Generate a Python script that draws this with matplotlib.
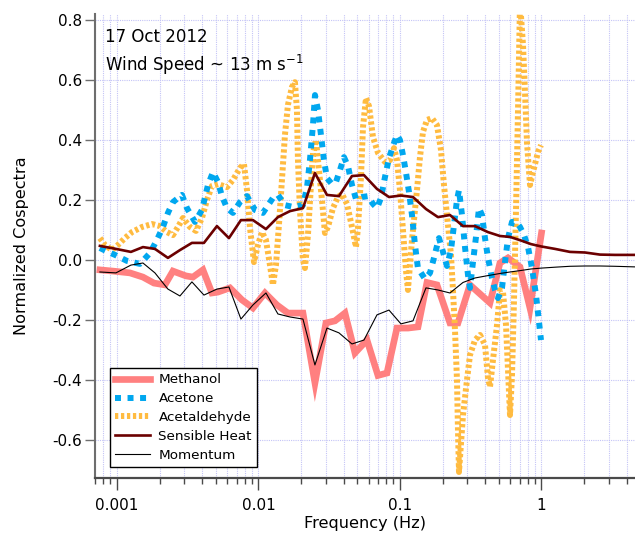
import matplotlib
matplotlib.use("Agg")
import matplotlib.pyplot as plt
from matplotlib.ticker import LogLocator, FixedLocator, NullFormatter, FuncFormatter

plt.rcParams['font.family'] = ['DejaVu Sans']
plt.rcParams['axes.unicode_minus'] = False

# Frequency bins (Hz) shared by the sensible heat and momentum cospectra
freq_flux = [0.000758, 0.000984, 0.001256, 0.001527, 0.001856, 0.002293, 0.002788,
             0.003388, 0.004120, 0.005090, 0.006187, 0.007520, 0.009144, 0.01130,
             0.01373, 0.01670, 0.02063, 0.02507, 0.03049, 0.03706, 0.04580, 0.05567,
             0.06879, 0.08363, 0.1016, 0.1236, 0.1527, 0.1856, 0.2256, 0.2788, 0.3388,
             0.4187, 0.5090, 0.5991, 0.7163, 0.8428, 1.0, 1.246, 1.590, 2.030, 2.591,
             3.307, 4.58]
sensible_heat = [0.047, 0.037, 0.027, 0.043, 0.037, 0.007, 0.033, 0.057, 0.057, 0.113,
                 0.073, 0.133, 0.133, 0.103, 0.143, 0.163, 0.173, 0.290, 0.217, 0.213,
                 0.280, 0.283, 0.237, 0.210, 0.215, 0.210, 0.170, 0.143, 0.150, 0.113,
                 0.113, 0.093, 0.080, 0.077, 0.065, 0.053, 0.045, 0.037, 0.027, 0.025,
                 0.018, 0.017, 0.017]
momentum = [-0.040, -0.043, -0.017, -0.010, -0.043, -0.097, -0.120, -0.073, -0.117, -0.097,
            -0.090, -0.197, -0.150, -0.110, -0.180, -0.190, -0.197, -0.350, -0.227, -0.243,
            -0.280, -0.267, -0.183, -0.167, -0.213, -0.203, -0.093, -0.100, -0.110, -0.075,
            -0.060, -0.052, -0.045, -0.040, -0.035, -0.030, -0.027, -0.024, -0.021, -0.020,
            -0.020, -0.021, -0.023]

# Methanol cospectrum
freq_methanol = [0.000759, 0.000937, 0.001236, 0.001527, 0.001826, 0.002184, 0.002488,
                 0.003073, 0.003444, 0.004053, 0.004691, 0.005173, 0.006289, 0.007646,
                 0.009146, 0.01112, 0.01351, 0.01616, 0.02063, 0.02508, 0.02999, 0.03473,
                 0.04087, 0.04809, 0.05846, 0.06992, 0.08095, 0.09524, 0.1139, 0.1341,
                 0.1552, 0.1826, 0.2256, 0.2569, 0.3124, 0.4325, 0.5088, 0.5798, 0.7047,
                 0.8295, 1.0]
methanol = [-0.033, -0.037, -0.043, -0.057, -0.077, -0.083, -0.037, -0.053, -0.057, -0.033,
            -0.110, -0.107, -0.093, -0.133, -0.160, -0.110, -0.150, -0.177, -0.177, -0.410,
            -0.210, -0.203, -0.177, -0.310, -0.267, -0.385, -0.377, -0.227, -0.227, -0.223,
            -0.075, -0.083, -0.210, -0.210, -0.083, -0.143, -0.010, 0.007, -0.023, -0.160,
            0.090]

# Acetone cospectrum
freq_acetone = [0.000758, 0.000864, 0.000969, 0.001177, 0.001454, 0.001711, 0.001918,
                0.002114, 0.002294, 0.002488, 0.002881, 0.003125, 0.00356, 0.003989,
                0.004399, 0.004772, 0.005176, 0.005525, 0.005993, 0.006608, 0.007405,
                0.008299, 0.009453, 0.01076, 0.01266, 0.01374, 0.01539, 0.01753, 0.02063,
                0.02202, 0.02312, 0.02428, 0.02509, 0.02634, 0.02766, 0.02904, 0.0305,
                0.03308, 0.03531, 0.03768, 0.04022, 0.04293, 0.04581, 0.04889, 0.05391,
                0.05944, 0.06448, 0.06883, 0.07345, 0.0784, 0.08367, 0.09077, 0.09531,
                0.1, 0.105, 0.1102, 0.1158, 0.1216, 0.1277, 0.134, 0.1502, 0.163, 0.1739,
                0.1887, 0.2014, 0.2149, 0.2294, 0.2409, 0.2529, 0.2613, 0.2744, 0.2881,
                0.3025, 0.3125, 0.3281, 0.3446, 0.3618, 0.3799, 0.3989, 0.4189, 0.4471,
                0.4695, 0.4929, 0.5261, 0.5525, 0.5801, 0.6191, 0.6608, 0.7053, 0.7527,
                0.8033, 0.8574, 0.9151, 0.9609, 0.992]
acetone = [0.040, 0.027, 0.017, -0.003, -0.013, 0.023, 0.067, 0.110, 0.157, 0.193,
           0.217, 0.173, 0.127, 0.167, 0.250, 0.293, 0.260, 0.213, 0.173, 0.157,
           0.193, 0.213, 0.167, 0.157, 0.207, 0.217, 0.183, 0.177, 0.183, 0.240,
           0.333, 0.450, 0.550, 0.500, 0.417, 0.333, 0.273, 0.253, 0.260, 0.300,
           0.343, 0.313, 0.250, 0.203, 0.210, 0.213, 0.187, 0.173, 0.207, 0.277,
           0.340, 0.390, 0.417, 0.400, 0.350, 0.293, 0.227, 0.150, 0.050, -0.027,
           -0.063, -0.043, 0.007, 0.073, 0.027, -0.020, 0.033, 0.117, 0.200, 0.233,
           0.150, 0.043, -0.050, -0.093, -0.007, 0.077, 0.173, 0.150, 0.073, 0.007,
           -0.060, -0.100, -0.127, -0.093, -0.007, 0.073, 0.127, 0.127, 0.110, 0.083,
           0.043, -0.027, -0.117, -0.207, -0.267]

# Acetaldehyde cospectrum
freq_acetaldehyde = [0.000758, 0.000823, 0.000923, 0.001016, 0.001139, 0.001277, 0.001502,
                     0.001768, 0.002014, 0.002257, 0.002488, 0.002699, 0.002928, 0.003281,
                     0.003618, 0.003989, 0.004328, 0.004695, 0.005176, 0.005993, 0.006608,
                     0.007405, 0.007904, 0.008299, 0.008714, 0.009301, 0.00992, 0.01059,
                     0.0113, 0.01206, 0.01266, 0.0133, 0.01396, 0.01466, 0.01539, 0.01616,
                     0.01725, 0.01811, 0.01871, 0.01902, 0.01965, 0.02063, 0.02132, 0.02238,
                     0.0235, 0.02428, 0.0255, 0.02634, 0.02811, 0.02952, 0.0310, 0.03362,
                     0.03648, 0.03893, 0.04223, 0.04581, 0.04889, 0.05051, 0.05304, 0.0548,
                     0.05754, 0.06042, 0.06448, 0.06995, 0.0784, 0.08504, 0.09077, 0.09531,
                     0.1, 0.105, 0.1102, 0.1139, 0.1216, 0.1319, 0.1385, 0.1454, 0.1552,
                     0.1683, 0.1826, 0.1949, 0.2047, 0.2184, 0.2294, 0.2369, 0.2448, 0.2529,
                     0.257, 0.2613, 0.2789, 0.2976, 0.3125, 0.339, 0.3678, 0.3989, 0.4189,
                     0.4328, 0.4544, 0.485, 0.5093, 0.5347, 0.5615, 0.5801, 0.5993, 0.6191,
                     0.6396, 0.6608, 0.6827, 0.7053, 0.7405, 0.7651, 0.7904, 0.8299, 0.8714,
                     0.9453, 0.992]
acetaldehyde = [0.073, 0.050, 0.033, 0.050, 0.073, 0.093, 0.110, 0.120, 0.113, 0.093,
                0.083, 0.110, 0.140, 0.110, 0.097, 0.140, 0.200, 0.247, 0.253, 0.243,
                0.267, 0.307, 0.320, 0.233, 0.107, -0.007, 0.050, 0.093, 0.067, -0.017,
                -0.083, -0.017, 0.117, 0.267, 0.417, 0.517, 0.577, 0.593, 0.500, 0.333,
                0.167, 0.000, -0.027, 0.083, 0.250, 0.357, 0.400, 0.333, 0.200, 0.090,
                0.110, 0.173, 0.210, 0.220, 0.187, 0.110, 0.043, 0.107, 0.277, 0.443,
                0.540, 0.513, 0.410, 0.357, 0.327, 0.333, 0.373, 0.333, 0.233, 0.100,
                -0.033, -0.100, 0.067, 0.233, 0.343, 0.427, 0.467, 0.473, 0.450, 0.367,
                0.250, 0.117, 0.017, -0.100, -0.233, -0.400, -0.567, -0.707, -0.517, -0.400,
                -0.317, -0.267, -0.250, -0.283, -0.393, -0.423, -0.333, -0.217, -0.100, -0.107,
                -0.217, -0.367, -0.517, -0.383, -0.133, 0.167, 0.500, 0.860, 0.717, 0.557,
                0.390, 0.250, 0.293, 0.360, 0.383]

y_ticks = [-0.6, -0.4, -0.2, 0.0, 0.2, 0.4, 0.6, 0.8]
x_ticks = [0.001, 0.01, 0.1, 1]
x_tick_labels = ['0.001', '0.01', '0.1', '1']

fig = plt.figure(figsize=(6.35, 5.34), dpi=100)
ax = fig.add_axes([95 / 635, 1 - 478 / 534, 540 / 635, (478 - 13.5) / 534])

grid_color = '#c4c4f6'
ax.set_xscale('log')
ax.set_xlim(7.0e-4, 4.58)
ax.set_ylim(-0.727, 0.822)

ax.plot(freq_methanol, methanol, color='#ff8080', lw=4.8, solid_joinstyle='miter',
        label='Methanol', zorder=3)
ax.plot(freq_acetaldehyde, acetaldehyde, color='#ffbb40', lw=4.3,
        linestyle=(0, (0.55, 0.45)), dash_capstyle='butt', label='Acetaldehyde', zorder=4)
ax.plot(freq_acetone, acetone, color='#00a7ef', lw=4.3,
        linestyle=(0, (1.0, 1.1)), dash_capstyle='butt', label='Acetone', zorder=5)
ax.plot(freq_flux, sensible_heat, color='#6b0000', lw=1.9, label='Sensible Heat', zorder=6)
ax.plot(freq_flux, momentum, color='black', lw=0.8, label='Momentum', zorder=7)

ax.xaxis.set_major_locator(FixedLocator(x_ticks))
ax.xaxis.set_major_formatter(FuncFormatter(lambda v, p: x_tick_labels[x_ticks.index(v)]
                                           if v in x_ticks else ''))
ax.xaxis.set_minor_locator(LogLocator(base=10, subs=range(2, 10), numticks=20))
ax.xaxis.set_minor_formatter(NullFormatter())
ax.yaxis.set_major_locator(FixedLocator(y_ticks))
ax.yaxis.set_major_formatter(FuncFormatter(lambda v, p: f'{v:.1f}'))

ax.grid(True, which='both', axis='x', color=grid_color, linestyle=(0, (1, 1)), lw=0.8)
ax.grid(True, which='major', axis='y', color=grid_color, linestyle=(0, (1, 1)), lw=0.8)
ax.set_axisbelow(True)

for side in ('top', 'right'):
    ax.spines[side].set_visible(False)
ax.spines['left'].set_color('#6e6e6e')
ax.spines['left'].set_linewidth(1.5)
ax.spines['bottom'].set_color('#4a4a4a')
ax.spines['bottom'].set_linewidth(1.6)

ax.tick_params(axis='x', which='major', length=8.6, width=1.0, color='#4a4a4a',
               labelsize=11, pad=6)
ax.tick_params(axis='x', which='minor', length=4.3, width=1.0, color='#4a4a4a')
ax.tick_params(axis='y', which='major', length=7.2, width=1.0, color='#6e6e6e',
               labelsize=11, pad=2)

ax.set_xlabel('Frequency (Hz)', fontsize=11.6)
ax.xaxis.set_label_coords(0.5, -0.082)
ax.set_ylabel('Normalized Cospectra', fontsize=11.6)
ax.yaxis.set_label_coords(-0.122, 0.5)

ax.text(0.0185, 0.9393, '17 Oct 2012', transform=ax.transAxes, fontsize=12,
        va='baseline', ha='left')
ax.text(0.0185, 0.8762, r'Wind Speed ~ 13 m s$^{\mathregular{-1}}$', transform=ax.transAxes,
        fontsize=12, va='baseline', ha='left')

handles, labels = ax.get_legend_handles_labels()
order = ['Methanol', 'Acetone', 'Acetaldehyde', 'Sensible Heat', 'Momentum']
hl = dict(zip(labels, handles))
leg = ax.legend([hl[k] for k in order], order, loc='lower left',
                bbox_to_anchor=(15 / 540, 11 / 464.5), borderaxespad=0,
                fontsize=9.7, frameon=True, fancybox=False, framealpha=1,
                edgecolor='black', handlelength=2.6, handletextpad=0.6,
                labelspacing=0.43, borderpad=0.4)
leg.get_frame().set_linewidth(1.0)
leg.set_zorder(10)

fig.savefig('out.png', dpi=100)
